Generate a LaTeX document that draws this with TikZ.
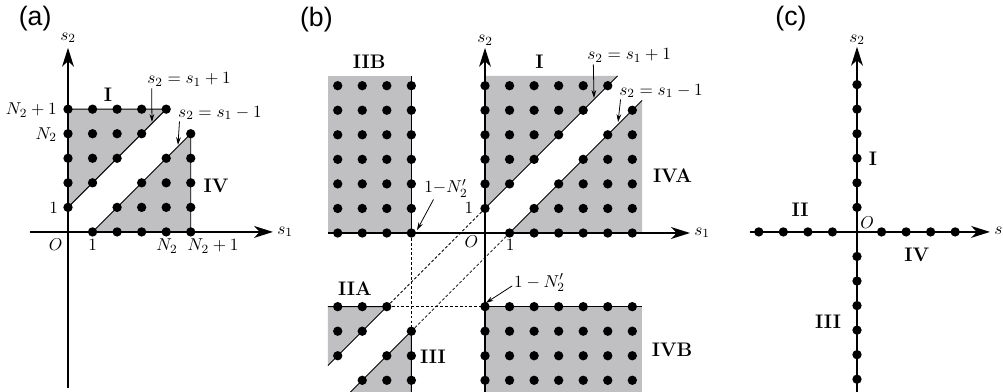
\documentclass[tikz,border=0pt]{standalone}
\usepackage{amsmath,amssymb}
\usepackage{fontspec}
\usepackage{tikz}
\usetikzlibrary{arrows.meta}
\newfontfamily\panelfont{Liberation Sans}
\definecolor{RegGray}{HTML}{C0C0C2}
\newcommand{\lpt}[2]{\fill (#1,#2) circle (0.19);}

\begin{document}
\begin{tikzpicture}[x=0.55cm, y=0.55cm, font=\fontsize{11}{13}\selectfont,
  axis/.style={line width=1.4pt, -{Stealth[length=12pt,width=7.5pt,inset=3.5pt]}},
  edge/.style={line width=0.6pt},
  region/.style={fill=RegGray},
  guide/.style={line width=0.5pt, dash pattern=on 1.8pt off 1.3pt},
  pointer/.style={line width=0.5pt, -{Stealth[length=5pt,width=3pt]}},
  lab/.style={font=\fontsize{12.5}{15}\selectfont\bfseries, inner sep=1pt},
  tick/.style={inner sep=1pt},
  panel/.style={font=\panelfont\fontsize{17}{20}\selectfont, inner sep=0pt}]
\useasboundingbox (0,0) rectangle (40.855,15.927);
\clip (0,0) rectangle (40.855,15.927);

%% (a) bounded lattice
\begin{scope}[shift={(2.77,6.48)}]
\fill[region] (0,1) -- (0,5) -- (4,5) -- cycle;
\fill[region] (1,0) -- (5,0) -- (5,4) -- cycle;
\draw[edge] (0,1) -- (4,5) -- (0,5);
\draw[edge] (1,0) -- (5,4) -- (5,0);
\draw[axis] (0,-6.35) -- (0,7.5);
\draw[axis] (-1.55,0) -- (8.35,0);
\foreach \i [evaluate=\i as \lo using int(\i+1)] in {0,...,4}
  \foreach \j in {\lo,...,5} \lpt{\i}{\j};
\foreach \j [evaluate=\j as \lo using int(\j+1)] in {0,...,4}
  \foreach \i in {\lo,...,5} \lpt{\i}{\j};

\node[panel] (tagA) at (-1.34,8.68) {(a)};
\node[tick] (s2A) at (0,7.9) {$s_2$};
\node[tick, anchor=west] (s1A) at (8.45,0) {$s_1$};
\node[tick, anchor=base east] (topA) at (-0.38,4.77) {$N_2+1$};
\node[tick, anchor=base east] (nA) at (-0.38,3.77) {$N_2$};
\node[tick, anchor=base east] (oneA) at (-0.33,0.77) {$1$};
\node[tick, anchor=base] (oA) at (-0.5,-0.77) {$O$};
\node[tick, anchor=base] (unitA) at (1,-0.77) {$1$};
\node[tick, anchor=base] (nbA) at (4.03,-0.77) {$N_2$};
\node[tick, anchor=base west] (rightA) at (4.8,-0.77) {$N_2+1$};
\node[lab] (regIa) at (1.63,5.58) {I};
\node[lab] (regIVa) at (6.03,1.87) {IV};
\node[tick, anchor=base] (eqA1) at (4.93,6.03) {$s_2=s_1+1$};
\node[tick, anchor=base] (eqA2) at (6.19,4.68) {$s_2=s_1-1$};
\coordinate (tipA1) at (3.42,4.48);
\coordinate (tipA2) at (4.48,3.54);
\draw[pointer] ([xshift=4pt]eqA1.south west) -- (tipA1);
\draw[pointer] ([xshift=2pt]eqA2.south west) -- (tipA2);
\end{scope}

%% (b) unbounded lattice
\begin{scope}[shift={(19.756,6.436)}]
\fill[region] (-6.4,0) rectangle (-3,6.4);
\fill[region] (0,1) -- (0,6.4) -- (5.4,6.4) -- cycle;
\fill[region] (1,0) -- (6.4,0) -- (6.4,5.4) -- cycle;
\fill[region] (0,-3) rectangle (6.4,-6.7);
\fill[region] (-6.4,-3) -- (-4,-3) -- (-6.4,-5.4) -- cycle;
\fill[region] (-3,-4) -- (-3,-6.7) -- (-5.7,-6.7) -- cycle;
\draw[edge] (-3,0) -- (-3,6.4);
\draw[edge] (0,1) -- (5.4,6.4);
\draw[edge] (1,0) -- (6.4,5.4);
\draw[edge] (0,-3) -- (6.4,-3);
\draw[edge] (-6.4,-3) -- (-4,-3) -- (-6.4,-5.4);
\draw[edge] (-5.7,-6.7) -- (-3,-4) -- (-3,-6.7);
\draw[guide] (-4,-3) -- (0,1);
\draw[guide] (-3,-4) -- (1,0);
\draw[guide] (-3,0) -- (-3,-4);
\draw[guide] (-4,-3) -- (0,-3);
\draw[axis] (0,-6.7) -- (0,7.54);
\draw[axis] (-6.4,0) -- (8.35,0);
\foreach \i in {-6,...,-3}
  \foreach \j in {0,...,6} \lpt{\i}{\j};
\foreach \i [evaluate=\i as \lo using int(\i+1)] in {0,...,5}
  \foreach \j in {\lo,...,6} \lpt{\i}{\j};
\foreach \j [evaluate=\j as \lo using int(\j+1)] in {0,...,5}
  \foreach \i in {\lo,...,6} \lpt{\i}{\j};
\foreach \i in {0,...,6}
  \foreach \j in {-6,...,-3} \lpt{\i}{\j};
\foreach \j [evaluate=\j as \hi using int(\j-1)] in {-5,-4,-3}
  \foreach \i in {-6,...,\hi} \lpt{\i}{\j};
\foreach \i [evaluate=\i as \hi using int(\i-1)] in {-5,-4,-3}
  \foreach \j in {-6,...,\hi} \lpt{\i}{\j};

\node[panel] (tagB) at (-6.87,8.68) {(b)};
\node[tick] (s2B) at (0,7.86) {$s_2$};
\node[tick, anchor=west] (s1B) at (8.45,0) {$s_1$};
\node[tick, anchor=base east] (oneB) at (-0.4,0.81) {$1$};
\node[tick, anchor=base east] (oB) at (-0.2,-0.61) {$O$};
\node[tick, anchor=base] (unitB) at (1.02,-0.73) {$1$};
\node[lab] (regIIB) at (-4.72,6.97) {IIB};
\node[lab] (regIb) at (2.22,6.97) {I};
\node[lab] (regIVA) at (7.64,2.32) {IVA};
\node[lab] (regIIA) at (-5.3,-2.26) {IIA};
\node[lab] (regIIIb) at (-2.12,-5.05) {III};
\node[lab] (regIVB) at (7.62,-4.75) {IVB};
\node[tick, anchor=base] (eqB1) at (5.87,7.05) {$s_2=s_1+1$};
\node[tick, anchor=base] (eqB2) at (7.17,5.62) {$s_2=s_1-1$};
\node[tick, anchor=base] (eqB3) at (-1.59,1.63) {$1{-}N'_2$};
\node[tick, anchor=base] (eqB4) at (2.22,-2.2) {$1-N'_2$};
\coordinate (tipB1) at (4.44,5.5);
\coordinate (tipB2) at (5.42,4.52);
\coordinate (tipB3) at (-2.77,0.12);
\coordinate (tipB4) at (0.03,-2.85);
\draw[pointer] ([xshift=5pt]eqB1.south west) -- (tipB1);
\draw[pointer] ([xshift=2pt]eqB2.south west) -- (tipB2);
\draw[pointer] ([xshift=7pt]eqB3.south west) -- (tipB3);
\draw[pointer] ([yshift=-2pt]eqB4.west) -- (tipB4);
\end{scope}

%% (c) axes only
\begin{scope}[shift={(34.908,6.48)}]
\draw[axis] (0,-6.7) -- (0,7.54);
\draw[axis] (-4.36,0) -- (5.42,0);
\foreach \k in {1,...,6} {\lpt{0}{\k} \lpt{0}{-\k}}
\foreach \k in {1,...,4} {\lpt{\k}{0} \lpt{-\k}{0}}

\node[panel] (tagC) at (-2.69,8.68) {(c)};
\node[tick] (s2C) at (0,7.82) {$s_2$};
\node[tick, anchor=west] (s1C) at (5.52,0) {$s_1$};
\node[tick] (oC) at (0.41,0.37) {$O$};
\node[lab] (regIc) at (0.65,2.97) {I};
\node[lab] (regIIc) at (-2.32,0.9) {II};
\node[lab] (regIVc) at (2.44,-0.94) {IV};
\node[lab] (regIIIc) at (-1.18,-3.67) {III};
\end{scope}
\end{tikzpicture}
\end{document}
